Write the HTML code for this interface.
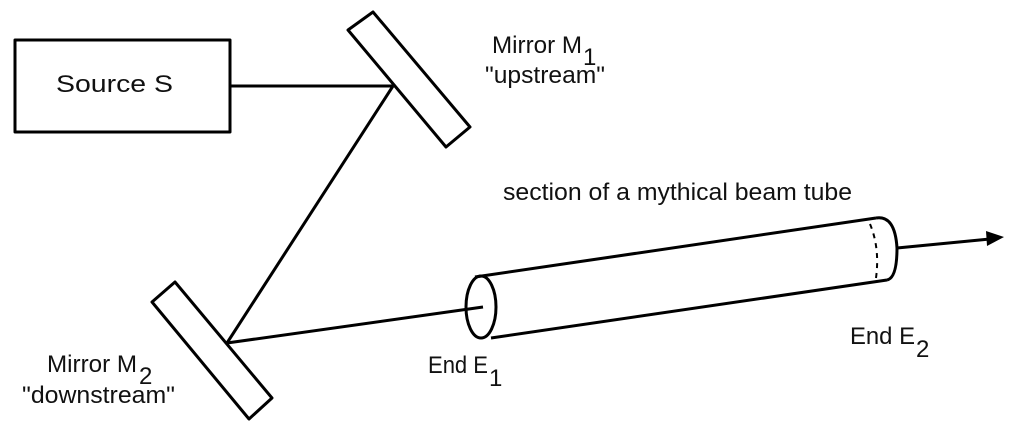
<!DOCTYPE html>
<html><head><meta charset="utf-8"><style>
html,body{margin:0;padding:0;background:#fff;}
svg{display:block;}
text{font-family:"Liberation Sans",Arial,sans-serif;font-size:24px;fill:#111;}
</style></head><body>
<svg width="1024" height="428" viewBox="0 0 1024 428" xmlns="http://www.w3.org/2000/svg">
<g fill="none" stroke="#000" stroke-width="3" stroke-linejoin="round">
<rect x="15" y="40" width="215" height="92"/>
<line x1="230" y1="86" x2="393" y2="86"/>
<polygon points="348,30 373,12 470,127 446,147" fill="#fff"/>
<line x1="393" y1="86" x2="227" y2="343"/>
<polygon points="152,302 175,282 272,398 249,419" fill="#fff"/>
<line x1="227" y1="343" x2="483" y2="307"/>
<line x1="475" y1="277" x2="876" y2="218"/>
<line x1="491" y1="338" x2="887" y2="280"/>
<ellipse cx="481" cy="307" rx="15" ry="31"/>
<path d="M876,218 Q895,215 897,248 Q897,278 887,280"/>
<path d="M870,224 Q880,248 876,278" stroke-width="2" stroke-dasharray="5,5"/>
<line x1="897" y1="248" x2="990" y2="239"/>
</g>
<polygon points="1004,237 986,231 987,246" fill="#000"/>
<text x="56" y="92" textLength="117" lengthAdjust="spacingAndGlyphs">Source S</text>
<text x="492" y="53" textLength="90" lengthAdjust="spacingAndGlyphs">Mirror M</text>
<text x="583" y="65" font-size="22">1</text>
<text x="485" y="83" textLength="120" lengthAdjust="spacingAndGlyphs">"upstream"</text>
<text x="503" y="200" textLength="349" lengthAdjust="spacingAndGlyphs">section of a mythical beam tube</text>
<text x="47" y="372" textLength="90" lengthAdjust="spacingAndGlyphs">Mirror M</text>
<text x="139" y="384" font-size="22">2</text>
<text x="22" y="403" textLength="153" lengthAdjust="spacingAndGlyphs">"downstream"</text>
<text x="428" y="373" textLength="60" lengthAdjust="spacingAndGlyphs">End E</text>
<text x="489" y="386" font-size="22">1</text>
<text x="850" y="344" textLength="65" lengthAdjust="spacingAndGlyphs">End E</text>
<text x="916" y="357" font-size="22">2</text>
</svg>
</body></html>
